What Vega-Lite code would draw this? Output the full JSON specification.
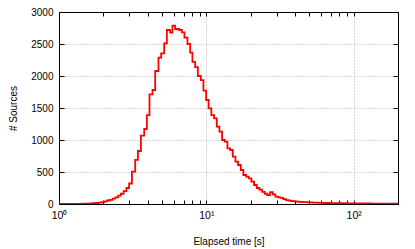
{
  "$schema": "https://vega.github.io/schema/vega-lite/v6.json",
  "width": 339,
  "height": 192,
  "autosize": {"type": "none"},
  "padding": {"left": 59, "top": 12, "right": 17, "bottom": 45},
  "background": "white",
  "config": {
    "view": {"stroke": "#000", "strokeWidth": 1},
    "font": "Liberation Sans",
    "axis": {"labelFont": "Liberation Sans", "titleFont": "Liberation Sans", "labelFontSize": 10, "titleFontSize": 10, "labelColor": "#000", "titleColor": "#000", "titleFontWeight": "normal", "tickColor": "#000", "tickWidth": 1}
  },
  "data": {"values": [
    {"t": 1, "n": 0}, {"t": 1.0611, "n": 0}, {"t": 1.1066, "n": 1}, {"t": 1.1562, "n": 1},
    {"t": 1.2079, "n": 1}, {"t": 1.2599, "n": 2}, {"t": 1.3162, "n": 2}, {"t": 1.375, "n": 3},
    {"t": 1.4342, "n": 4}, {"t": 1.4983, "n": 5}, {"t": 1.5652, "n": 7}, {"t": 1.6352, "n": 9},
    {"t": 1.7055, "n": 12}, {"t": 1.7816, "n": 16}, {"t": 1.8613, "n": 21}, {"t": 1.9415, "n": 28},
    {"t": 2.0282, "n": 40}, {"t": 2.1189, "n": 55}, {"t": 2.21, "n": 65}, {"t": 2.3087, "n": 85},
    {"t": 2.412, "n": 104}, {"t": 2.5198, "n": 130}, {"t": 2.628, "n": 160}, {"t": 2.7455, "n": 200},
    {"t": 2.8683, "n": 250}, {"t": 2.9918, "n": 320}, {"t": 3.1255, "n": 505}, {"t": 3.2907, "n": 688},
    {"t": 3.4324, "n": 828}, {"t": 3.5971, "n": 1068}, {"t": 3.7875, "n": 1172}, {"t": 3.9501, "n": 1390},
    {"t": 4.1137, "n": 1713}, {"t": 4.3111, "n": 1781}, {"t": 4.4967, "n": 2078}, {"t": 4.7347, "n": 2286},
    {"t": 4.9381, "n": 2354}, {"t": 5.1748, "n": 2510}, {"t": 5.3978, "n": 2719}, {"t": 5.683, "n": 2677},
    {"t": 5.8915, "n": 2786}, {"t": 6.1441, "n": 2734}, {"t": 6.5405, "n": 2719}, {"t": 6.822, "n": 2682},
    {"t": 7.104, "n": 2599}, {"t": 7.4459, "n": 2500}, {"t": 7.7652, "n": 2365}, {"t": 8.0494, "n": 2220},
    {"t": 8.3961, "n": 2140}, {"t": 8.7575, "n": 2000}, {"t": 9.1777, "n": 1937}, {"t": 9.5582, "n": 1770},
    {"t": 9.9687, "n": 1625}, {"t": 10.366, "n": 1495}, {"t": 10.812, "n": 1390}, {"t": 11.295, "n": 1339},
    {"t": 11.781, "n": 1208}, {"t": 12.269, "n": 1130}, {"t": 12.797, "n": 1000}, {"t": 13.348, "n": 974},
    {"t": 13.901, "n": 870}, {"t": 14.5, "n": 844}, {"t": 15.124, "n": 740}, {"t": 15.751, "n": 661},
    {"t": 16.428, "n": 609}, {"t": 17.136, "n": 531}, {"t": 17.846, "n": 453}, {"t": 18.613, "n": 427},
    {"t": 19.415, "n": 400}, {"t": 20.219, "n": 349}, {"t": 21.09, "n": 297}, {"t": 22.0, "n": 250},
    {"t": 22.909, "n": 225}, {"t": 23.893, "n": 190}, {"t": 24.924, "n": 160}, {"t": 25.955, "n": 140},
    {"t": 27.073, "n": 185}, {"t": 28.241, "n": 150}, {"t": 29.409, "n": 115}, {"t": 30.675, "n": 104},
    {"t": 31.996, "n": 95}, {"t": 33.321, "n": 75}, {"t": 34.754, "n": 62}, {"t": 36.252, "n": 54},
    {"t": 37.755, "n": 46}, {"t": 39.378, "n": 42}, {"t": 41.073, "n": 36}, {"t": 42.777, "n": 32},
    {"t": 44.613, "n": 28}, {"t": 48.541, "n": 24}, {"t": 52.81, "n": 21}, {"t": 57.457, "n": 18},
    {"t": 62.507, "n": 16}, {"t": 68.005, "n": 14}, {"t": 73.987, "n": 13}, {"t": 80.494, "n": 12},
    {"t": 87.575, "n": 10}, {"t": 95.28, "n": 11}, {"t": 103.66, "n": 9}, {"t": 112.76, "n": 8},
    {"t": 122.69, "n": 8}, {"t": 133.48, "n": 7}, {"t": 145.23, "n": 6}, {"t": 158.0, "n": 6},
    {"t": 171.9, "n": 5}, {"t": 187.0, "n": 5}, {"t": 200, "n": 5}
  ]},
  "layer": [
    {
      "mark": {"type": "line", "interpolate": "step-after", "color": "#ff0000", "strokeWidth": 1.8, "clip": true},
      "encoding": {
        "x": {"field": "t", "type": "quantitative",
          "scale": {"type": "log", "domain": [1, 200], "nice": false},
          "axis": {"orient": "bottom", "title": "Elapsed time [s]", "titlePadding": 16,
            "values": [1,2,3,4,5,6,7,8,9,10,20,30,40,50,60,70,80,90,100,200],
            "labelExpr": "datum.value == 1 ? '10⁰' : datum.value == 10 ? '10¹' : datum.value == 100 ? '10²' : ''",
            "labelFlush": false, "labelOverlap": false, "labelPadding": 10, "labelFontSize": 10.5,
            "domain": false,
            "grid": true, "gridColor": "#999", "gridDash": [1, 2], "gridWidth": 0.8,
            "gridOpacity": {"condition": {"test": "datum.value == 10 || datum.value == 100", "value": 1}, "value": 0},
            "tickSize": -4}
        },
        "y": {"field": "n", "type": "quantitative",
          "scale": {"domain": [0, 3000], "nice": false},
          "axis": {"orient": "left", "title": "# Sources", "titlePadding": 12, "format": "d",
            "values": [0, 500, 1000, 1500, 2000, 2500, 3000],
            "labelPadding": 11, "labelFlush": false, "labelOverlap": false,
            "domain": false,
            "grid": true, "gridColor": "#999", "gridDash": [1, 2], "gridWidth": 0.8,
            "gridOpacity": {"condition": {"test": "datum.value == 0 || datum.value == 3000", "value": 0}, "value": 1},
            "tickSize": -5}
        }
      }
    },
    {
      "mark": {"type": "line", "interpolate": "step-after", "strokeOpacity": 0, "clip": true},
      "encoding": {
        "x": {"field": "t", "type": "quantitative",
          "axis": {"orient": "top", "title": null, "labels": false, "domain": false, "grid": false,
            "values": [1,2,3,4,5,6,7,8,9,10,20,30,40,50,60,70,80,90,100,200],
            "tickSize": -4}
        },
        "y": {"field": "n", "type": "quantitative",
          "axis": {"orient": "right", "title": null, "labels": false, "domain": false, "grid": false,
            "values": [0, 500, 1000, 1500, 2000, 2500, 3000],
            "tickSize": -5}
        }
      }
    }
  ],
  "resolve": {"axis": {"x": "independent", "y": "independent"}}
}
